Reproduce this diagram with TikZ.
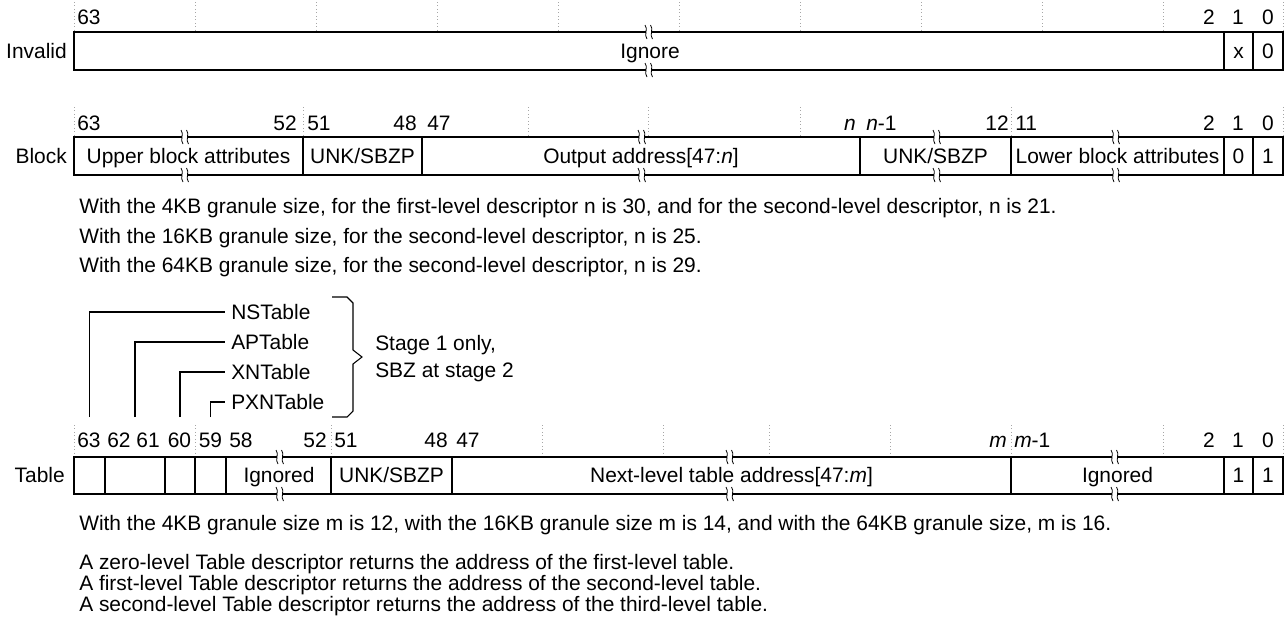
\documentclass[tikz,border=0pt]{standalone}
\usepackage{fontspec}
\setmainfont{Liberation Sans}
\newcommand{\brkmark}[2]{%
  \fill[white] ({#1-3},{#2-1.2}) rectangle ({#1+3},{#2+1.2});
  \draw[line width=0.6pt] ({#1-4},{#2-7}) .. controls ({#1-0.5},{#2-3}) and ({#1-5.5},{#2+3}) .. ({#1-2},{#2+7});
  \draw[line width=0.6pt] ({#1+1.5},{#2-7}) .. controls ({#1+5},{#2-3}) and ({#1},{#2+3}) .. ({#1+3.5},{#2+7});
}
\begin{document}
\begin{tikzpicture}[x=0.75pt,y=-0.75pt,
  every node/.style={font=\fontsize{15.7}{18}\selectfont, inner sep=0pt, text height=11.2pt, text depth=0pt},
  rowlbl/.style={anchor=east},
  lft/.style={anchor=west},
  rgt/.style={anchor=east},
  gridline/.style={gray!70, dotted, line width=0.6pt},
  outer/.style={line width=1.1pt},
  divline/.style={line width=0.8pt},
  leader/.style={line width=0.8pt}]
\useasboundingbox (0,0) rectangle (1288,625);

% ---------------- Invalid row ----------------
\foreach \gx in {74,195,316,437,558,679,800,921,1042,1163,1283}
  \draw[gridline] (\gx,2) -- (\gx,31);
\node[lft] (i63) at (77,17) {63};
\node[rgt] (i2) at (1215,17) {2};
\node (i1) at (1238,17) {1};
\node (i0) at (1268,17) {0};
\draw[divline] (1224,32) -- (1224,70);
\draw[divline] (1253,32) -- (1253,70);
\draw[outer] (74,32) rectangle (1283,70);
\brkmark{649}{32}\brkmark{649}{70}
\node[rowlbl] (invalid) at (67,51) {Invalid};
\node (ignore) at (650,51) {Ignore};
\node (ix) at (1238.5,51) {x};
\node (iz) at (1268,51) {0};

% ---------------- Block row ----------------
\foreach \gx in {74,303,528,648,800,1011,1283}
  \draw[gridline] (\gx,107) -- (\gx,136);
\node[lft] (b63) at (77,123) {63};
\node[rgt] (b52) at (297,123) {52};
\node[lft] (b51) at (307,123) {51};
\node[rgt] (b48) at (417,123) {48};
\node[lft] (b47) at (427,123) {47};
\node[rgt] (bn) at (856,123) {\textit{n}};
\node[lft] (bn1) at (866,123) {\textit{n}-1};
\node[rgt] (b12) at (1009,123) {12};
\node[lft] (b11) at (1015,123) {11};
\node[rgt] (b2) at (1215,123) {2};
\node (b1) at (1238,123) {1};
\node (b0) at (1268,123) {0};
\foreach \dx in {303,422,860,1011,1224,1253}
  \draw[divline] (\dx,137) -- (\dx,175);
\draw[outer] (74,137) rectangle (1283,175);
\foreach \bx in {185,642,937,1116} {\brkmark{\bx}{137}\brkmark{\bx}{175}}
\node[rowlbl] (block) at (67,156) {Block};
\node (uba) at (188.5,156) {Upper block attributes};
\node (bunk1) at (362.5,156) {UNK/SBZP};
\node (oa) at (641,156) {Output address[47:\textit{n}]};
\node (bunk2) at (935.5,156) {UNK/SBZP};
\node (lba) at (1117.5,156) {Lower block attributes};
\node (bz) at (1238.5,156) {0};
\node (bo) at (1268,156) {1};

\node[lft] (t1) at (79,206) {With the 4KB granule size, for the first-level descriptor n is 30, and for the second-level descriptor, n is 21.};
\node[lft] (t2) at (79,236) {With the 16KB granule size, for the second-level descriptor, n is 25.};
\node[lft] (t3) at (79,265) {With the 64KB granule size, for the second-level descriptor, n is 29.};

% ---------------- Table attribute leaders ----------------
\node[lft] (ns) at (231,312) {NSTable};
\node[lft] (ap) at (231,342) {APTable};
\node[lft] (xn) at (231,372) {XNTable};
\node[lft] (pxn) at (231,402) {PXNTable};
\coordinate (nsfoot) at (89.5,417);
\coordinate (apfoot) at (135,417);
\coordinate (xnfoot) at (180,417);
\coordinate (pxnfoot) at (210.5,417);
\draw[leader] (nsfoot) |- ([xshift=-4.5pt]ns.west);
\draw[leader] (apfoot) |- ([xshift=-4.5pt]ap.west);
\draw[leader] (xnfoot) |- ([xshift=-4.5pt]xn.west);
\draw[leader] (pxnfoot) |- ([xshift=-4.5pt]pxn.west);
\draw[leader, line join=miter] (332,297) -- (347,297) -- (353,303) -- (353,350) -- (362,357) -- (353,364) -- (353,411) -- (347,417) -- (332,417);
\node[lft] (st1) at (375,343) {Stage 1 only,};
\node[lft] (st2) at (375,370) {SBZ at stage 2};

% ---------------- Table row ----------------
\foreach \gx in {74,195,331,542,663,769,890,1011,1163,1283}
  \draw[gridline] (\gx,425) -- (\gx,456);
\node[lft] (t63) at (77,440) {63};
\node[lft] (t62) at (107,440) {62};
\node[rgt] (t61) at (160,440) {61};
\node (t60) at (179.5,440) {60};
\node (t59) at (210.5,440) {59};
\node[lft] (t58) at (229,440) {58};
\node[rgt] (t52) at (327,440) {52};
\node[lft] (t51) at (334,440) {51};
\node[rgt] (t48) at (448,440) {48};
\node[lft] (t47) at (456,440) {47};
\node[rgt] (tm) at (1007,440) {\textit{m}};
\node[lft] (tm1) at (1014,440) {\textit{m}-1};
\node[rgt] (t2b) at (1215,440) {2};
\node (t1b) at (1238,440) {1};
\node (t0b) at (1268,440) {0};
\foreach \dx in {105,165,195,226,331,452,1011,1224,1253}
  \draw[divline] (\dx,457) -- (\dx,494);
\draw[outer] (74,457) rectangle (1283,494);
\foreach \bx in {280,730,1115} {\brkmark{\bx}{457}\brkmark{\bx}{494}}
\node[rowlbl] (table) at (65,475.5) {Table};
\node (tign1) at (279,475.5) {Ignored};
\node (tunk) at (391.5,475.5) {UNK/SBZP};
\node (nla) at (731.5,475.5) {Next-level table address[47:\textit{m}]};
\node (tign2) at (1117.5,475.5) {Ignored};
\node (ta) at (1238.5,475.5) {1};
\node (tb) at (1268,475.5) {1};

\node[lft] (t4) at (79,523) {With the 4KB granule size m is 12, with the 16KB granule size m is 14, and with the 64KB granule size, m is 16.};
\node[lft] (t5) at (79,562) {A zero-level Table descriptor returns the address of the first-level table.};
\node[lft] (t6) at (79,583) {A first-level Table descriptor returns the address of the second-level table.};
\node[lft] (t7) at (79,604) {A second-level Table descriptor returns the address of the third-level table.};
\end{tikzpicture}
\end{document}
